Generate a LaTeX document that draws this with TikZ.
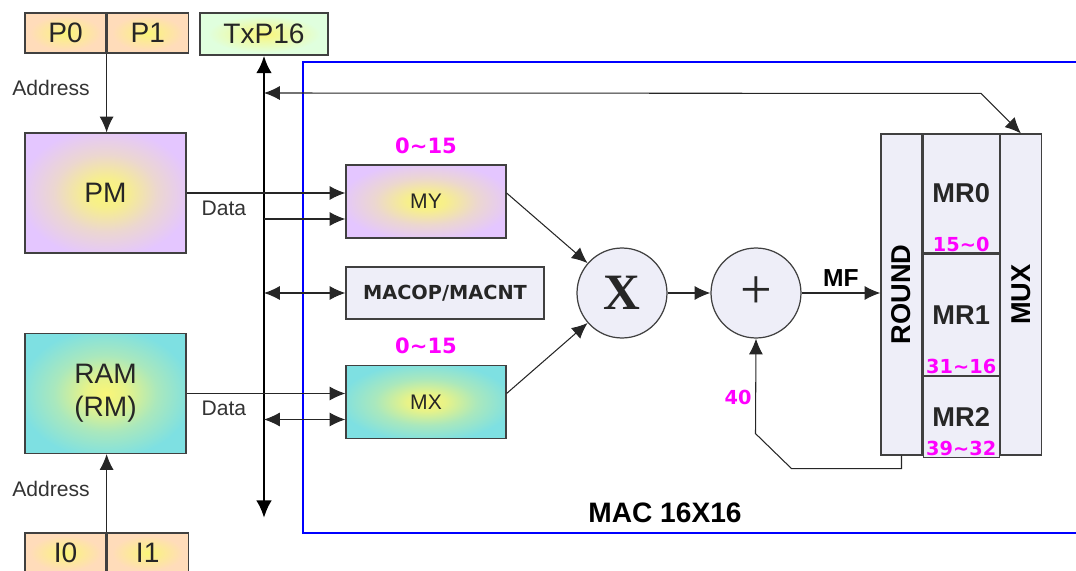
\documentclass[tikz,border=0pt]{standalone}
\usepackage{fontspec}
\setmainfont{Liberation Sans}
\newfontfamily\timesfam{Liberation Serif}
\newfontfamily\vfam{DejaVu Sans}
\usepackage{tikz}
\usetikzlibrary{positioning,arrows.meta,calc}
\usepackage{xcolor}
\definecolor{lav}{RGB}{228,198,255}
\definecolor{aqua}{RGB}{126,224,226}
\definecolor{peach}{RGB}{255,220,186}
\definecolor{mint}{RGB}{224,255,222}
\definecolor{pale}{RGB}{238,238,248}
\definecolor{mag}{RGB}{255,0,255}
\definecolor{frameblue}{RGB}{0,0,255}
\definecolor{core}{RGB}{250,246,120}
\pgfdeclareradialshading{pmglow}{\pgfpoint{0bp}{0bp}}{color(0bp)=(core); color(6bp)=(core!85!lav); color(16bp)=(core!35!lav); color(27bp)=(lav); color(50bp)=(lav)}
\pgfdeclareradialshading{rmglow}{\pgfpoint{0bp}{0bp}}{color(0bp)=(core); color(6bp)=(core!85!aqua); color(16bp)=(core!35!aqua); color(27bp)=(aqua); color(50bp)=(aqua)}
\pgfdeclareradialshading{ptrglow}{\pgfpoint{0bp}{0bp}}{color(0bp)=(core); color(8bp)=(core!60!peach); color(22bp)=(peach); color(50bp)=(peach)}
\pgfdeclareradialshading{txglow}{\pgfpoint{0bp}{0bp}}{color(0bp)=(core); color(8bp)=(core!60!mint); color(22bp)=(mint); color(50bp)=(mint)}
\tikzset{
  blk/.style={draw=black!75,line width=0.7pt,inner sep=1pt,align=center,text=black!85},
  pmfill/.style={blk,shading=pmglow},
  rmfill/.style={blk,shading=rmglow},
  ptrfill/.style={blk,shading=ptrglow},
  txfill/.style={blk,shading=txglow},
  opfill/.style={blk,fill=pale},
  bigtxt/.style={font=\fontsize{16}{19}\selectfont},
  midtxt/.style={font=\fontsize{12}{14}\selectfont},
  regtxt/.style={font=\bfseries\fontsize{15.5}{18}\selectfont},
  bits/.style={text=mag,font=\vfam\bfseries\fontsize{11}{12}\selectfont,inner sep=1pt},
  lbl/.style={font=\fontsize{12}{14}\selectfont,text=black!80},
  arr/.style={->,>={Latex[length=9pt,width=8pt]},line width=0.6pt,draw=black!85},
  barr/.style={arr,<->},
  bus/.style={<->,>={Latex[length=10pt,width=9pt]},line width=1.7pt},
  macframe/.style={draw=frameblue,line width=1.6pt},
}
\begin{document}
\begin{tikzpicture}[x=0.02cm,y=-0.02cm]
\useasboundingbox (0,0) rectangle (1076,571);

\node[ptrfill,bigtxt,minimum width=1.62cm,minimum height=0.8cm] (p0) at (65.5,33) {P0};
\node[ptrfill,bigtxt,minimum width=1.62cm,minimum height=0.8cm,right=0pt of p0] (p1) {P1};
\node[txfill,bigtxt,minimum width=2.56cm,minimum height=0.84cm] (txp) at (264,34) {TxP16};

\node[pmfill,bigtxt,minimum width=3.22cm,minimum height=2.4cm] (pm) at (105.5,193) {PM};
\node[rmfill,bigtxt,minimum width=3.22cm,minimum height=2.4cm] (ram) at (105.5,393.5) {RAM\\(RM)};
\node[ptrfill,bigtxt,minimum width=1.62cm,minimum height=0.8cm] (i0) at (65.5,553) {I0};
\node[ptrfill,bigtxt,minimum width=1.62cm,minimum height=0.8cm,right=0pt of i0] (i1) {I1};

\draw[arr] (p0.south east) -- (p0.south east |- pm.north);
\draw[arr] (i0.north east) -- (i0.north east |- ram.south);
\node[lbl] (adrtop) at (51,88) {Address};
\node[lbl] (adrbot) at (51,489) {Address};

\coordinate (busend) at (264,518);
\draw[bus] (busend) -- (txp.south);

\draw[macframe] (1080,62) -| (303,533) -- (1080,533);
\node[font=\bfseries\fontsize{16}{19}\selectfont] (mactitle) at (665,513) {MAC 16X16};

\node[pmfill,midtxt,minimum width=3.2cm,minimum height=1.46cm] (my) at (426,201.5) {MY};
\node[bits,font=\vfam\bfseries\fontsize{12}{13}\selectfont,above=5pt of my] (mybits) {0\textasciitilde15};
\node[opfill,font=\vfam\bfseries\fontsize{11}{13}\selectfont,minimum width=3.96cm,minimum height=1.04cm] (mac) at (445,293) {MACOP/MACNT};
\node[rmfill,midtxt,minimum width=3.2cm,minimum height=1.46cm] (mx) at (426,402) {MX};
\node[bits,font=\vfam\bfseries\fontsize{12}{13}\selectfont,above=5pt of mx] (mxbits) {0\textasciitilde15};

\draw[arr] (pm.east) -- (pm.east -| my.west);
\node[lbl,below right=1pt and 5pt of pm.east] (datatop) {Data};
\coordinate (myin) at ($(pm.east)+(0,26)$);
\draw[arr] (myin -| txp) -- (myin -| my.west);
\draw[barr] (mac.west -| txp) -- (mac.west);
\draw[arr] (ram.east) -- (ram.east -| mx.west);
\node[lbl,below right=1pt and 5pt of ram.east] (databot) {Data};
\coordinate (mxin) at ($(ram.east)+(0,26)$);
\draw[barr] (mxin -| txp) -- (mxin -| mx.west);

\node[opfill,circle,minimum size=1.8cm,font=\timesfam\bfseries\fontsize{29}{30}\selectfont] (mul) at (622,293) {X};
\node[opfill,circle,minimum size=1.8cm,font=\timesfam\fontsize{32}{32}\selectfont] (add) at (756,293) {+};
\draw[arr] (pm.east -| my.east) -- (mul);
\draw[arr] (ram.east -| mx.east) -- (mul);
\draw[arr] (mul) -- (add);

\node[opfill,minimum width=0.82cm,minimum height=6.42cm] (round) at (901.5,294.5) {};
\node[font=\bfseries\fontsize{15.5}{18}\selectfont,rotate=90] (roundtxt) at (round) {ROUND};
\node[opfill,regtxt,anchor=north west,minimum width=1.52cm,minimum height=2.38cm] (mr0) at (round.north east) {MR0};
\node[opfill,regtxt,minimum width=1.52cm,minimum height=2.42cm,below=0pt of mr0] (mr1) {MR1};
\node[opfill,regtxt,minimum width=1.52cm,minimum height=1.62cm,below=0pt of mr1] (mr2) {MR2};
\node[opfill,anchor=north west,minimum width=0.82cm,minimum height=6.42cm] (mux) at (mr0.north east) {};
\node[font=\bfseries\fontsize{15.5}{18}\selectfont,rotate=90] (muxtxt) at (mux) {MUX};
\node[bits,above=0pt of mr0.south] (mr0bits) {15\textasciitilde0};
\node[bits,above=0pt of mr1.south] (mr1bits) {31\textasciitilde16};
\node[bits,above=0pt of mr2.south] (mr2bits) {39\textasciitilde32};

\draw[arr] (add) -- (add -| round.west) node[midway,above,font=\bfseries\fontsize{14}{16}\selectfont] (mf) {MF};
\draw[arr] (round.south) -- ++(0,13) -- ++(-110,0) -- ++(-36,-35) -- (add.south);
\node[bits] (fb) at (738,397) {40};

\coordinate (bustap) at (264,93);
\draw[barr] (bustap) -- ($(mux.north)+(-40,-40)$) -- (mux.north);

\end{tikzpicture}
\end{document}
